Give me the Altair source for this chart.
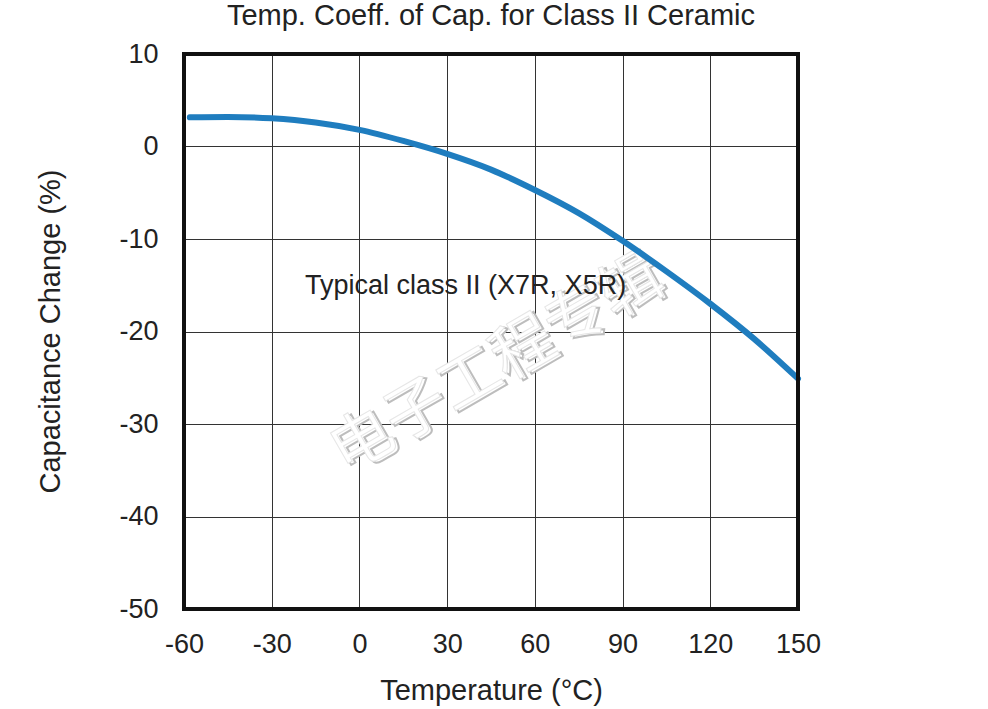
import altair as alt
import pandas as pd

temps = [-58, -45, -30, -15, 0, 15, 30, 45, 60, 75, 90, 105, 120, 135, 150]
change = [3.15, 3.2, 3.05, 2.6, 1.8, 0.6, -0.8, -2.5, -4.7, -7.2, -10.2, -13.5, -17.0, -20.8, -25.1]
x_ticks = [-60, -30, 0, 30, 60, 90, 120, 150]
y_ticks = [10, 0, -10, -20, -30, -40, -50]

title = "Temp. Coeff. of Cap. for Class II Ceramic"
annotation = ["Typical class II (X7R, X5R)"]
ann_x = [-18.6]
ann_y = [-15.1]
watermark = ["电子工程专辑"]
wm_x = [47]
wm_y = [-23.6]

FONT = "Liberation Sans"
TXT = "#222222"

df = pd.DataFrame({"t": temps, "c": change})
ann = pd.DataFrame({"t": ann_x, "c": ann_y, "label": annotation})
wm = pd.DataFrame({"t": wm_x, "c": wm_y, "label": watermark})

xs = alt.Scale(domain=[-60, 150], nice=False, zero=False)
ys = alt.Scale(domain=[-50, 10], nice=False, zero=False)

xax = alt.Axis(values=x_ticks, title="Temperature (°C)", grid=True, gridColor="#333333",
               gridWidth=1, domain=False, ticks=False, labelFontSize=27, labelFont=FONT,
               labelColor=TXT, labelPadding=22, labelExpr="toString(datum.value)",
               labelFlush=False, labelOverlap=False,
               titleFontSize=29, titleFont=FONT, titleFontWeight="normal", titleColor=TXT,
               titleX=307, titleY=81, titleBaseline="middle", titleAlign="center")
yax = alt.Axis(values=y_ticks, title="Capacitance Change (%)", grid=True, gridColor="#333333",
               gridWidth=1, domain=False, ticks=False, labelFontSize=27, labelFont=FONT,
               labelColor=TXT, labelPadding=26, labelExpr="toString(datum.value)",
               labelFlush=False, labelOverlap=False,
               titleFontSize=29, titleFont=FONT, titleFontWeight="normal", titleColor=TXT,
               titleX=-134, titleY=277, titleBaseline="middle", titleAlign="center",
               titleAngle=270)

line = alt.Chart(df).mark_line(color="#1f7dbf", strokeWidth=6, interpolate="monotone",
                               strokeCap="round").encode(
    x=alt.X("t:Q", scale=xs, axis=xax),
    y=alt.Y("c:Q", scale=ys, axis=yax),
)

wm_shadow = alt.Chart(wm).mark_text(font="Noto Sans CJK SC", fontSize=62, angle=330,
                                    fill="#ffffff", stroke="#bdbdbd", strokeWidth=2,
                                    dx=2, dy=3).encode(
    x=alt.X("t:Q", scale=xs), y=alt.Y("c:Q", scale=ys), text="label:N")
wm_front = alt.Chart(wm).mark_text(font="Noto Sans CJK SC", fontSize=62, angle=330,
                                   fill="#ffffff", stroke="#e6e6e6", strokeWidth=1).encode(
    x=alt.X("t:Q", scale=xs), y=alt.Y("c:Q", scale=ys), text="label:N")

text = alt.Chart(ann).mark_text(font=FONT, fontSize=27, align="left", color=TXT).encode(
    x=alt.X("t:Q", scale=xs), y=alt.Y("c:Q", scale=ys), text="label:N")

border = alt.Chart(ann).mark_rect(fill=None, stroke="#111111", strokeWidth=4).encode(
    x=alt.value(0), x2=alt.value(614), y=alt.value(0), y2=alt.value(555))

chart = alt.layer(wm_shadow, wm_front, line, text, border).properties(
    width=614, height=555,
    title=alt.TitleParams(title, fontSize=29, font=FONT, fontWeight="normal",
                          color=TXT, offset=9, anchor="middle", frame="group"),
    autosize=alt.AutoSizeParams(type="none"),
    padding={"left": 184, "top": 54, "right": 190, "bottom": 100},
).configure_view(stroke=None).configure(background="white")

chart.save("out.html", embed_options={"renderer": "svg", "actions": False})
